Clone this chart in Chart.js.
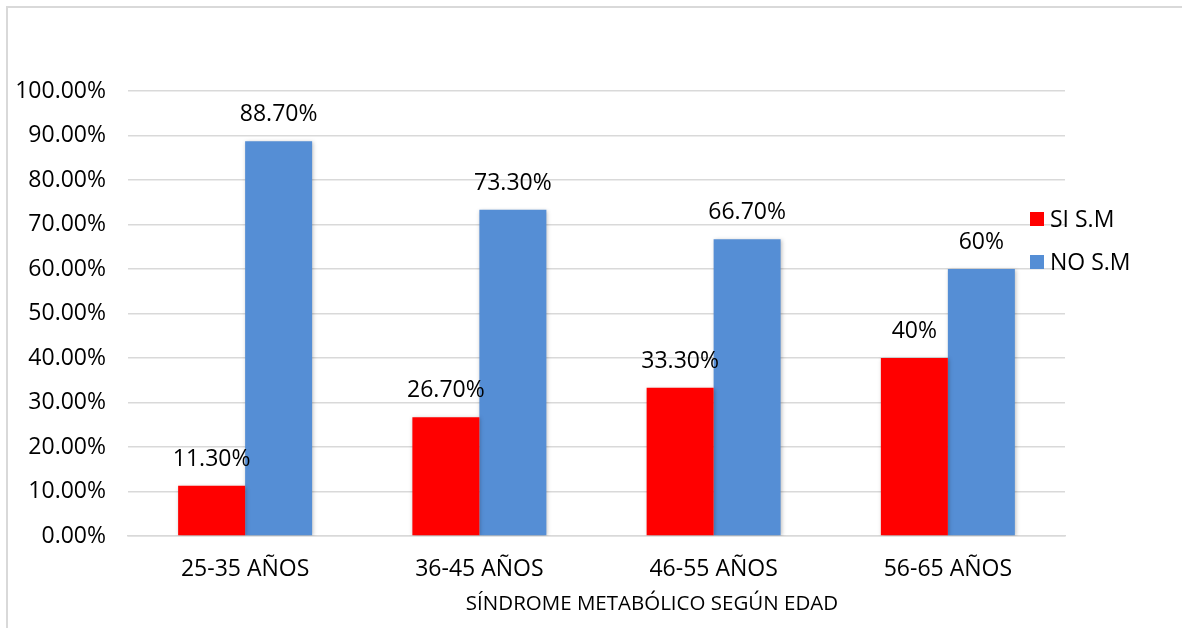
<!DOCTYPE html>
<html>
<head>
<meta charset="utf-8">
<script src="https://cdn.jsdelivr.net/npm/chart.js@4/dist/chart.umd.min.js"></script>
<style>
  html, body { margin: 0; padding: 0; background: #ffffff; }
  #wrap { position: relative; width: 1182px; height: 628px; }
  canvas { display: block; }
</style>
</head>
<body>
<div id="wrap"><canvas id="c" width="1182" height="628"></canvas></div>
<script>
// Age groups and share of people with / without metabolic syndrome
const categories = ['25-35 AÑOS', '36-45 AÑOS', '46-55 AÑOS', '56-65 AÑOS'];
const siSM = [0.113, 0.267, 0.333, 0.40];
const noSM = [0.887, 0.733, 0.667, 0.60];
const siLabels = ['11.30%', '26.70%', '33.30%', '40%'];
const noLabels = ['88.70%', '73.30%', '66.70%', '60%'];
const seriesNames = ['SI S.M', 'NO S.M'];
const xTitle = 'SÍNDROME METABÓLICO SEGÚN EDAD';

const FONT = "'Open Sans', 'Liberation Sans', sans-serif";
const TEXT = '#000000';

// Outer frame (left and top edges)
const framePlugin = {
  id: 'frame',
  beforeDraw(chart) {
    const ctx = chart.ctx;
    ctx.save();
    ctx.fillStyle = '#ffffff';
    ctx.fillRect(0, 0, chart.width, chart.height);
    ctx.strokeStyle = '#d9d9d9';
    ctx.lineWidth = 2;
    ctx.beginPath();
    ctx.moveTo(7, chart.height);
    ctx.lineTo(7, 7);
    ctx.lineTo(chart.width, 7);
    ctx.stroke();
    ctx.restore();
  }
};

// Soft shadow under the bars
const shadowPlugin = {
  id: 'barShadow',
  beforeDatasetsDraw(chart) {
    const ctx = chart.ctx;
    ctx.save();
    ctx.shadowColor = 'rgba(0,0,0,0.25)';
    ctx.shadowBlur = 4;
    ctx.shadowOffsetX = 1;
    ctx.shadowOffsetY = 1;
  },
  afterDatasetsDraw(chart) {
    chart.ctx.restore();
  }
};

// Value labels above each bar
const valueLabels = {
  id: 'valueLabels',
  afterDatasetsDraw(chart) {
    const ctx = chart.ctx;
    const texts = [siLabels, noLabels];
    ctx.save();
    ctx.font = '23px ' + FONT;
    ctx.fillStyle = TEXT;
    ctx.textAlign = 'center';
    ctx.textBaseline = 'alphabetic';
    chart.data.datasets.forEach((ds, di) => {
      chart.getDatasetMeta(di).data.forEach((bar, i) => {
        ctx.fillText(texts[di][i], bar.x, bar.y - 20);
      });
    });
    ctx.restore();
  }
};

// Legend on the right side, plus the category axis title
const sideLegend = {
  id: 'sideLegend',
  afterDraw(chart) {
    const ctx = chart.ctx;
    ctx.save();
    ctx.font = '23px ' + FONT;
    ctx.textBaseline = 'middle';
    ctx.textAlign = 'left';
    chart.data.datasets.forEach((ds, i) => {
      const cy = 219 + i * 43;
      ctx.fillStyle = ds.backgroundColor;
      ctx.fillRect(1030, cy - 7, 14, 14);
      ctx.fillStyle = TEXT;
      ctx.fillText(ds.label, 1050, cy + 1);
    });
    ctx.font = '20.5px ' + FONT;
    ctx.textAlign = 'center';
    ctx.fillStyle = TEXT;
    ctx.fillText(xTitle, 652, 604);
    ctx.restore();
  }
};

new Chart(document.getElementById('c'), {
  type: 'bar',
  data: {
    labels: categories,
    datasets: [
      { label: seriesNames[0], data: siSM, backgroundColor: '#ff0000',
        categoryPercentage: 0.572, barPercentage: 1.0 },
      { label: seriesNames[1], data: noSM, backgroundColor: '#558ed5',
        categoryPercentage: 0.572, barPercentage: 1.0 }
    ]
  },
  options: {
    responsive: false,
    animation: false,
    devicePixelRatio: 1,
    layout: { padding: { left: 8, right: 117, top: 91, bottom: 0 } },
    plugins: {
      legend: { display: false },
      tooltip: { enabled: false }
    },
    scales: {
      y: {
        min: 0,
        max: 1,
        ticks: {
          stepSize: 0.1,
          color: TEXT,
          font: { family: FONT, size: 23 },
          padding: 22,
          callback: v => (v * 100).toFixed(2) + '%'
        },
        grid: { color: '#d9d9d9', lineWidth: 1.5, drawTicks: false },
        border: { display: false },
        afterFit(scale) { scale.width = 120; }
      },
      x: {
        ticks: {
          color: TEXT,
          font: { family: FONT, size: 23 },
          padding: 20
        },
        grid: { display: false, drawTicks: false },
        border: { display: true, color: '#d9d9d9', width: 1.5 },
        title: { display: false },
        afterFit(scale) { scale.height = 92; }
      }
    }
  },
  plugins: [framePlugin, shadowPlugin, valueLabels, sideLegend]
});
</script>
</body>
</html>
